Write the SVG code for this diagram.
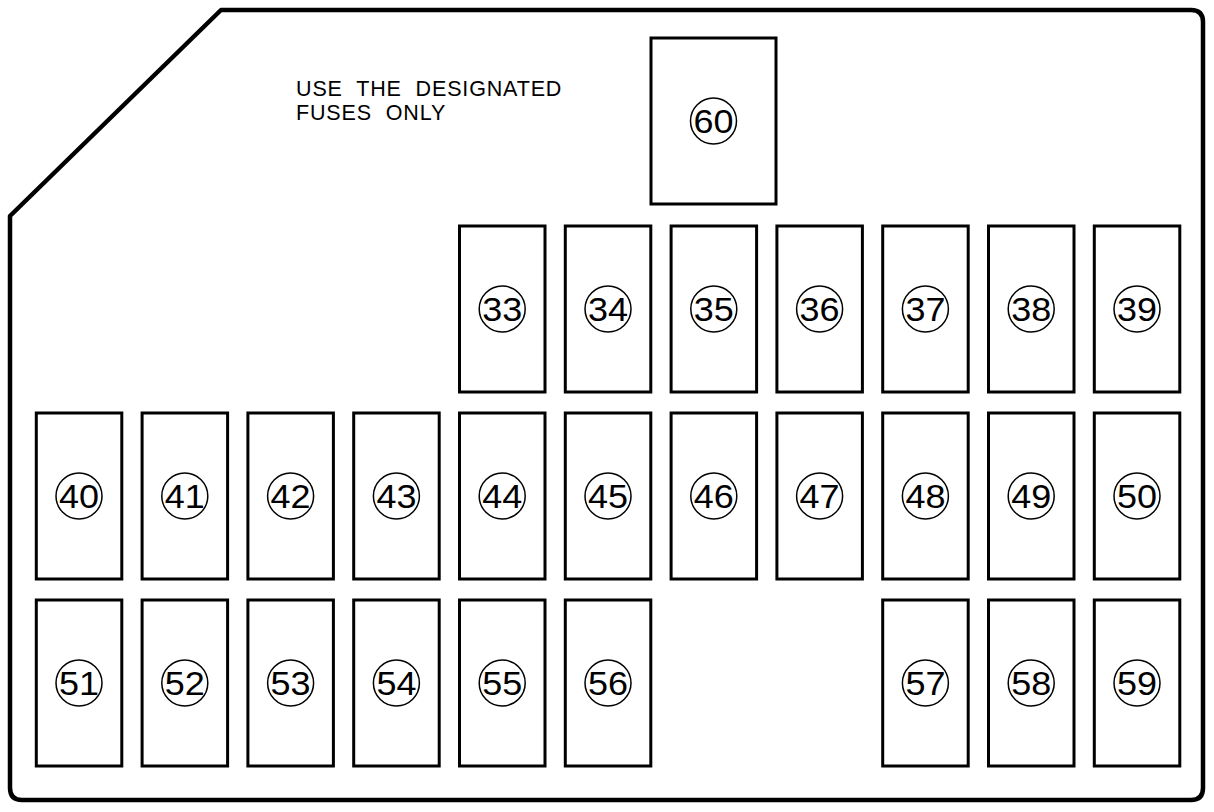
<svg xmlns="http://www.w3.org/2000/svg" width="1214" height="812" viewBox="0 0 1214 812">
<style>
.outer{fill:#fff;stroke:#000;stroke-width:4.5;stroke-linejoin:round}
.box{fill:#fff;stroke:#000;stroke-width:3}
.ring{fill:none;stroke:#000;stroke-width:1.5}
.num{font-family:"Liberation Sans",Arial,sans-serif;font-size:33px;text-anchor:middle;fill:#000}
.note{font-family:"Liberation Sans",Arial,sans-serif;font-size:21.5px;letter-spacing:0.85px;word-spacing:7px;fill:#000}
</style>
<rect width="1214" height="812" fill="#fff"/>
<g id="housing">
<path class="outer" d="M10 216 L221 10 L1191 10 Q1203 10 1203 22 L1203 788 Q1203 800 1191 800 L22 800 Q10 800 10 788 Z"/>
<text class="note" x="296" y="95.5">USE THE DESIGNATED</text>
<text class="note" x="296" y="119.5">FUSES ONLY</text>
</g>
<g id="connectors"/>
<g id="f60"><rect class="box" x="651" y="38" width="125" height="166"/><circle class="ring" cx="713.5" cy="121" r="23"/><text class="num" x="713.5" y="132.8" textLength="40" lengthAdjust="spacingAndGlyphs">60</text></g>
<g id="f33"><rect class="box" x="459.5" y="226" width="85.5" height="166"/><circle class="ring" cx="502.2" cy="309" r="23"/><text class="num" x="502.2" y="320.8" textLength="40" lengthAdjust="spacingAndGlyphs">33</text></g>
<g id="f34"><rect class="box" x="565.3" y="226" width="85.5" height="166"/><circle class="ring" cx="608" cy="309" r="23"/><text class="num" x="608" y="320.8" textLength="40" lengthAdjust="spacingAndGlyphs">34</text></g>
<g id="f35"><rect class="box" x="671.1" y="226" width="85.5" height="166"/><circle class="ring" cx="713.8" cy="309" r="23"/><text class="num" x="713.8" y="320.8" textLength="40" lengthAdjust="spacingAndGlyphs">35</text></g>
<g id="f36"><rect class="box" x="776.9" y="226" width="85.5" height="166"/><circle class="ring" cx="819.6" cy="309" r="23"/><text class="num" x="819.6" y="320.8" textLength="40" lengthAdjust="spacingAndGlyphs">36</text></g>
<g id="f37"><rect class="box" x="882.7" y="226" width="85.5" height="166"/><circle class="ring" cx="925.4" cy="309" r="23"/><text class="num" x="925.4" y="320.8" textLength="40" lengthAdjust="spacingAndGlyphs">37</text></g>
<g id="f38"><rect class="box" x="988.5" y="226" width="85.5" height="166"/><circle class="ring" cx="1031.2" cy="309" r="23"/><text class="num" x="1031.2" y="320.8" textLength="40" lengthAdjust="spacingAndGlyphs">38</text></g>
<g id="f39"><rect class="box" x="1094.3" y="226" width="85.5" height="166"/><circle class="ring" cx="1137" cy="309" r="23"/><text class="num" x="1137" y="320.8" textLength="40" lengthAdjust="spacingAndGlyphs">39</text></g>
<g id="f40"><rect class="box" x="36.3" y="413" width="85.5" height="166"/><circle class="ring" cx="79" cy="496" r="23"/><text class="num" x="79" y="507.8" textLength="40" lengthAdjust="spacingAndGlyphs">40</text></g>
<g id="f41"><rect class="box" x="142.1" y="413" width="85.5" height="166"/><circle class="ring" cx="184.8" cy="496" r="23"/><text class="num" x="184.8" y="507.8" textLength="40" lengthAdjust="spacingAndGlyphs">41</text></g>
<g id="f42"><rect class="box" x="247.9" y="413" width="85.5" height="166"/><circle class="ring" cx="290.6" cy="496" r="23"/><text class="num" x="290.6" y="507.8" textLength="40" lengthAdjust="spacingAndGlyphs">42</text></g>
<g id="f43"><rect class="box" x="353.7" y="413" width="85.5" height="166"/><circle class="ring" cx="396.4" cy="496" r="23"/><text class="num" x="396.4" y="507.8" textLength="40" lengthAdjust="spacingAndGlyphs">43</text></g>
<g id="f44"><rect class="box" x="459.5" y="413" width="85.5" height="166"/><circle class="ring" cx="502.2" cy="496" r="23"/><text class="num" x="502.2" y="507.8" textLength="40" lengthAdjust="spacingAndGlyphs">44</text></g>
<g id="f45"><rect class="box" x="565.3" y="413" width="85.5" height="166"/><circle class="ring" cx="608" cy="496" r="23"/><text class="num" x="608" y="507.8" textLength="40" lengthAdjust="spacingAndGlyphs">45</text></g>
<g id="f46"><rect class="box" x="671.1" y="413" width="85.5" height="166"/><circle class="ring" cx="713.8" cy="496" r="23"/><text class="num" x="713.8" y="507.8" textLength="40" lengthAdjust="spacingAndGlyphs">46</text></g>
<g id="f47"><rect class="box" x="776.9" y="413" width="85.5" height="166"/><circle class="ring" cx="819.6" cy="496" r="23"/><text class="num" x="819.6" y="507.8" textLength="40" lengthAdjust="spacingAndGlyphs">47</text></g>
<g id="f48"><rect class="box" x="882.7" y="413" width="85.5" height="166"/><circle class="ring" cx="925.4" cy="496" r="23"/><text class="num" x="925.4" y="507.8" textLength="40" lengthAdjust="spacingAndGlyphs">48</text></g>
<g id="f49"><rect class="box" x="988.5" y="413" width="85.5" height="166"/><circle class="ring" cx="1031.2" cy="496" r="23"/><text class="num" x="1031.2" y="507.8" textLength="40" lengthAdjust="spacingAndGlyphs">49</text></g>
<g id="f50"><rect class="box" x="1094.3" y="413" width="85.5" height="166"/><circle class="ring" cx="1137" cy="496" r="23"/><text class="num" x="1137" y="507.8" textLength="40" lengthAdjust="spacingAndGlyphs">50</text></g>
<g id="f51"><rect class="box" x="36.3" y="600" width="85.5" height="166"/><circle class="ring" cx="79" cy="683" r="23"/><text class="num" x="79" y="694.8" textLength="40" lengthAdjust="spacingAndGlyphs">51</text></g>
<g id="f52"><rect class="box" x="142.1" y="600" width="85.5" height="166"/><circle class="ring" cx="184.8" cy="683" r="23"/><text class="num" x="184.8" y="694.8" textLength="40" lengthAdjust="spacingAndGlyphs">52</text></g>
<g id="f53"><rect class="box" x="247.9" y="600" width="85.5" height="166"/><circle class="ring" cx="290.6" cy="683" r="23"/><text class="num" x="290.6" y="694.8" textLength="40" lengthAdjust="spacingAndGlyphs">53</text></g>
<g id="f54"><rect class="box" x="353.7" y="600" width="85.5" height="166"/><circle class="ring" cx="396.4" cy="683" r="23"/><text class="num" x="396.4" y="694.8" textLength="40" lengthAdjust="spacingAndGlyphs">54</text></g>
<g id="f55"><rect class="box" x="459.5" y="600" width="85.5" height="166"/><circle class="ring" cx="502.2" cy="683" r="23"/><text class="num" x="502.2" y="694.8" textLength="40" lengthAdjust="spacingAndGlyphs">55</text></g>
<g id="f56"><rect class="box" x="565.3" y="600" width="85.5" height="166"/><circle class="ring" cx="608" cy="683" r="23"/><text class="num" x="608" y="694.8" textLength="40" lengthAdjust="spacingAndGlyphs">56</text></g>
<g id="f57"><rect class="box" x="882.7" y="600" width="85.5" height="166"/><circle class="ring" cx="925.4" cy="683" r="23"/><text class="num" x="925.4" y="694.8" textLength="40" lengthAdjust="spacingAndGlyphs">57</text></g>
<g id="f58"><rect class="box" x="988.5" y="600" width="85.5" height="166"/><circle class="ring" cx="1031.2" cy="683" r="23"/><text class="num" x="1031.2" y="694.8" textLength="40" lengthAdjust="spacingAndGlyphs">58</text></g>
<g id="f59"><rect class="box" x="1094.3" y="600" width="85.5" height="166"/><circle class="ring" cx="1137" cy="683" r="23"/><text class="num" x="1137" y="694.8" textLength="40" lengthAdjust="spacingAndGlyphs">59</text></g>
</svg>
